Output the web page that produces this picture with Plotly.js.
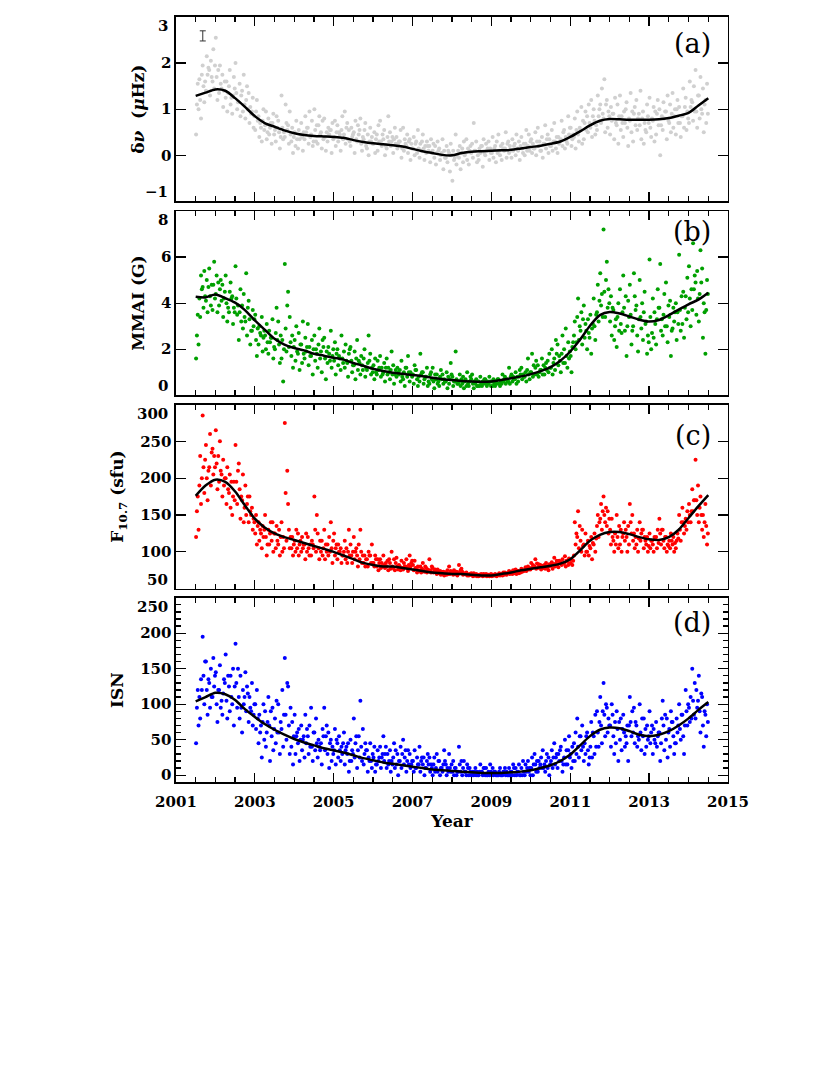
<!DOCTYPE html>
<html>
<head>
<meta charset="utf-8">
<script src="https://cdn.plot.ly/plotly-3.0.1.min.js"></script>
<style>body{margin:0;background:#fff}#fig{width:830px;height:1075px}</style>
</head>
<body>
<div id="fig"></div>
<script>
var dnuPts = [
 0.45,1.1,1.55, 1.65,1.2,0.8, 1.95,1.5,1.15, 1.4,2.15,1.75, 1.85,1.3,2.05, 1.6,2.3,1.45,
 2.55,1.7,1.2, 1.35,1.95,1.55, 1.75,1.05,1.4, 1.25,1.6,0.95, 1.5,1.85,1.1, 0.9,1.3,1.7, 2.0,1.35,1.0, 1.15,1.55,0.85, 1.4,0.95,1.75, 0.8,1.2,1.5, 1.35,0.7,1.05, 0.95,1.25,0.6,
 0.55,0.95,1.2, 0.85,0.4,0.7, 0.3,0.75,1.0, 0.65,0.95,0.35, 0.8,0.45,0.6, 0.25,0.7,0.9, 0.55,0.3,0.85, 0.75,0.5,0.15, 1.3,0.6,0.35, 0.4,1.1,0.7, 0.65,0.25,0.95, 0.3,0.6,0.05,
 0.5,0.2,0.75, 0.15,0.55,0.35, 0.7,0.4,0.1, 0.35,0.85,0.5, 0.6,0.25,0.95, 0.45,0.75,0.2, 1.0,0.55,0.3, 0.25,0.65,0.85, 0.5,0.15,0.75, 0.8,0.4,0.1, 0.3,0.6,0.45, 0.55,0.05,0.7,
 0.4,0.75,0.2, 0.65,0.3,0.5, 0.1,0.55,0.85, 0.45,0.95,0.25, 0.7,0.35,0.55, 0.2,0.6,0.4, 0.5,0.05,0.75, 0.3,0.65,0.45, 0.8,0.25,0.1, 0.35,0.55,0.7, 0.15,0.45,0.0, 0.6,0.3,0.4,
 0.25,0.5,0.05, 0.45,0.1,0.65, 0.75,0.3,0.2, 0.35,0.55,0.0, 0.15,0.4,0.85, 0.5,0.2,0.3, 0.05,0.35,0.6, 0.4,0.15,0.25, 0.3,0.55,-0.05, 0.6,0.1,0.35, 0.2,0.45,0.05, 0.35,-0.1,0.25,
 0.15,0.4,0.0, 0.3,0.05,0.55, -0.05,0.25,0.1, 0.45,0.15,-0.1, 0.05,0.3,0.2, 0.2,-0.15,0.35, 0.1,0.25,-0.05, -0.2,0.05,0.3, 0.15,-0.1,0.0, 0.35,-0.3,0.1, -0.05,0.2,-0.15, 0.05,-0.35,0.25,
 -0.55,0.1,-0.1, 0.45,-0.2,0.0, -0.05,0.2,-0.3, 0.15,-0.15,0.3, 0.05,0.35,-0.1, -0.2,0.1,0.2, 0.25,-0.05,0.7, 0.1,0.3,-0.15, -0.1,0.15,0.05, 0.2,-0.25,0.35, 0.0,0.25,0.1, 0.3,-0.1,0.15,
 0.05,0.4,-0.05, 0.2,-0.15,0.3, 0.45,0.1,0.0, -0.1,0.25,0.15, 0.15,0.5,-0.05, 0.3,0.05,0.2, -0.05,0.35,0.1, 0.25,0.0,0.45, 0.1,0.3,-0.1, 0.4,0.15,0.05, 0.0,0.25,0.55, 0.2,0.45,0.1,
 0.35,0.05,0.25, 0.15,0.5,0.0, 0.6,0.2,0.3, 0.1,0.4,-0.05, 0.25,0.65,0.15, 0.45,0.05,0.35, 0.2,0.55,0.1, 0.7,0.3,0.15, 0.05,0.4,0.25, 0.35,0.75,0.2, 0.55,0.15,0.4, 0.25,0.85,0.45,
 0.6,0.2,0.35, 0.4,0.8,0.15, 0.95,0.45,0.3, 0.55,1.05,0.25, 0.35,0.7,0.95, 0.85,0.5,1.1, 0.6,1.2,0.4, 1.0,0.75,0.45, 0.55,1.3,0.85, 1.1,0.7,1.45, 0.8,1.65,0.5, 1.2,0.6,0.95,
 0.45,1.05,0.75, 0.9,0.35,1.25, 0.65,1.1,0.25, 1.3,0.55,0.85, 0.4,0.95,0.7, 1.15,0.6,0.2, 0.75,1.35,0.5, 0.3,0.9,1.05, 1.2,0.55,0.8, 0.65,1.4,0.35, 0.95,0.25,0.7, 0.5,1.1,0.85,
 1.25,0.6,0.4, 0.75,1.05,0.3, 0.45,0.9,1.2, 1.0,0.0,0.65, 0.55,1.15,0.8, 0.95,0.35,1.3, 0.7,1.1,0.5, 1.35,0.6,0.85, 0.45,1.0,1.2, 1.05,0.7,0.4, 0.85,1.45,0.6, 1.25,0.55,0.95,
 0.7,1.6,1.05, 1.15,0.75,1.5, 1.85,0.95,0.6, 1.3,0.8,1.7, 0.9,1.45,0.5, 1.2,0.7,1.55
];
var mmaiPts = [
 1.6,2.6,3.5, 4.2,3.4,5.2, 4.7,3.8,5.4, 4.1,5.0,3.6, 5.5,4.3,3.9, 3.7,4.8,5.8,
 4.4,5.2,3.6, 3.9,4.6,5.0, 4.8,3.4,4.2, 5.2,4.0,3.2, 3.6,4.5,4.9, 4.3,3.1,3.8, 5.6,4.2,3.5, 2.4,3.6,4.6, 3.9,2.9,4.4, 3.2,5.3,2.6, 4.1,3.3,2.2, 2.8,3.7,3.0,
 3.5,2.4,1.7, 2.2,3.0,2.7, 3.4,1.9,2.5, 2.6,2.0,3.1, 1.8,2.8,2.3, 2.5,3.3,1.6, 2.0,2.7,3.8, 3.2,2.2,1.4, 1.6,2.4,0.6, 5.7,2.9,1.9, 4.5,2.1,3.4, 1.7,2.6,1.2,
 2.4,1.5,3.0, 1.8,2.7,1.1, 2.2,1.4,3.2, 1.6,2.5,1.9, 3.1,1.3,2.1, 1.7,2.4,0.9, 2.6,1.5,2.0, 1.2,2.2,2.9, 1.9,1.0,2.4, 2.5,1.6,0.7, 1.4,2.1,1.8, 2.8,1.2,1.7,
 1.5,2.3,0.9, 2.0,1.3,1.7, 1.1,2.6,1.6, 1.9,1.2,2.2, 1.4,0.8,1.8, 2.1,1.5,1.0, 1.3,1.9,0.7, 2.4,1.1,1.5, 0.9,1.7,1.3, 1.6,2.0,0.8, 1.1,1.4,2.6, 1.8,0.9,1.2,
 1.3,0.7,1.6, 0.9,1.5,1.1, 1.7,0.8,1.2, 1.0,1.4,0.6, 1.6,0.9,1.2, 0.7,1.1,1.9, 1.3,0.5,0.9, 0.8,1.2,1.0, 1.1,0.6,1.5, 0.7,1.0,0.4, 1.2,0.8,1.7, 0.6,1.0,0.9,
 0.9,0.5,1.3, 1.1,0.7,0.4, 0.6,1.8,0.9, 1.0,0.5,0.7, 0.8,1.2,0.4, 0.5,0.9,1.0, 1.2,0.6,0.3, 0.7,0.9,0.5, 0.4,0.8,1.1, 0.9,0.5,0.7, 0.6,1.0,0.3, 0.5,0.7,1.4,
 0.8,0.4,0.6, 1.9,0.7,0.5, 0.6,0.9,0.4, 0.5,0.8,0.3, 0.7,0.4,1.0, 0.4,0.6,0.8, 0.9,0.5,0.3, 0.5,0.7,0.4, 0.6,0.4,0.8, 0.4,0.6,0.5, 0.7,0.5,0.4, 0.5,0.8,0.6,
 0.6,0.4,0.7, 0.4,0.6,0.5, 0.7,0.5,0.4, 0.5,0.9,0.6, 0.8,0.5,0.7, 0.6,1.2,0.5, 0.9,0.6,0.8, 0.7,1.0,0.5, 0.6,0.8,1.1, 1.2,0.7,0.9, 0.8,1.0,0.6, 1.6,0.9,0.7,
 1.0,1.8,0.8, 0.9,1.2,1.5, 1.3,0.8,1.0, 1.1,1.6,0.9, 0.9,1.2,1.4, 1.5,1.0,1.8, 1.2,2.0,0.9, 1.6,1.1,2.4, 2.2,1.3,1.7, 1.0,1.8,2.6, 2.0,1.4,2.9, 1.2,2.3,1.6,
 1.7,1.0,2.1, 2.6,3.2,2.0, 3.4,4.2,2.4, 2.8,3.6,2.2, 3.9,2.5,3.1, 2.0,3.3,2.7, 3.5,1.8,2.9, 4.2,3.0,2.4, 3.6,4.8,3.2, 5.3,3.9,4.4, 7.2,4.5,3.4, 5.8,3.8,4.6,
 3.2,4.3,2.6, 3.7,2.4,3.0, 2.1,3.4,4.0, 4.6,3.1,2.7, 5.2,3.8,2.8, 1.7,3.0,4.1, 4.8,3.5,2.2, 3.0,5.3,4.3, 3.9,2.6,1.9, 5.0,3.4,2.9, 2.4,3.6,4.5, 3.2,1.8,2.6,
 5.9,3.4,2.0, 4.2,2.5,3.6, 2.2,3.3,4.6, 3.8,5.7,2.8, 2.6,3.5,4.4, 4.9,3.0,2.3, 3.4,4.1,1.7, 2.9,3.8,3.2, 4.0,2.4,3.6, 6.1,3.7,2.8, 3.1,4.5,2.5, 4.3,3.3,5.1,
 5.6,4.2,3.0, 3.7,6.6,4.6, 4.9,3.5,5.4, 3.2,4.4,6.3, 5.5,2.5,4.0, 1.8,3.7,5.0
];
var f107Pts = [
 120,155,175, 190,230,165, 285,215,180, 245,200,170, 215,260,190, 240,205,230,
 265,220,185, 195,250,210, 175,225,190, 200,165,215, 180,205,160, 150,175,195, 245,195,165, 220,185,145, 170,205,140, 190,150,165, 140,175,155, 160,130,145,
 125,150,110, 140,115,130, 105,135,120, 150,120,95, 130,110,125, 115,140,100, 125,105,135, 110,130,95, 140,100,120, 275,180,115, 165,130,105, 105,120,95,
 115,100,130, 125,95,110, 100,120,105, 110,90,125, 120,105,95, 95,115,110, 175,130,100, 125,105,90, 100,115,95, 130,90,110, 110,95,120, 140,105,85,
 125,95,105, 90,110,100, 105,85,95, 100,115,90, 85,100,130, 110,95,85, 120,90,100, 95,80,110, 130,100,85, 85,95,80, 90,80,100, 95,85,110,
 85,80,95, 80,90,75, 90,78,85, 95,82,78, 80,88,75, 85,77,100, 78,90,75, 92,80,76, 80,75,88, 76,85,80, 90,78,74, 95,80,85,
 82,75,88, 78,72,80, 74,80,72, 85,75,73, 78,72,76, 90,75,72, 78,72,74, 73,70,76, 71,74,69, 70,73,68, 72,69,75, 80,70,74,
 72,69,75, 70,73,68, 82,71,75, 73,69,71, 70,72,68, 68,70,69, 69,67,71, 68,70,67, 67,69,68, 69,67,70, 68,70,67, 69,67,68,
 67,69,68, 70,68,67, 69,71,68, 70,68,72, 72,70,69, 71,74,70, 73,70,75, 72,76,70, 74,71,73, 77,73,75, 75,79,74, 80,76,78,
 85,78,82, 80,90,77, 78,83,80, 76,81,79, 82,77,85, 79,75,83, 81,86,77, 92,80,84, 83,79,88, 86,82,90, 84,94,80, 87,82,91,
 85,90,82, 95,140,110, 120,155,105, 115,100,130, 110,95,125, 100,115,95, 105,120,90, 110,125,100, 135,150,120, 145,165,130, 175,150,140, 135,155,125,
 130,110,145, 115,100,125, 150,120,105, 110,130,100, 125,140,115, 120,100,135, 165,140,125, 115,125,105, 110,130,100, 140,115,125, 130,105,120, 110,120,100,
 125,105,115, 110,100,120, 120,105,130, 145,125,110, 130,115,105, 120,100,110, 115,105,125, 110,120,100, 105,115,125, 150,130,115, 160,140,125, 145,130,155,
 165,150,140, 185,155,170, 225,170,150, 140,160,175, 130,150,120, 165,135,110
];
var isnPts = [
 45,95,120, 110,80,135, 195,140,100, 160,120,85, 130,95,150, 110,165,125,
 145,100,75, 120,155,95, 85,115,135, 170,105,80, 125,90,140, 100,150,70, 185,130,95, 110,80,140, 60,120,100, 145,90,125, 75,110,95, 130,70,85,
 100,65,120, 45,85,60, 25,75,100, 90,40,60, 110,70,20, 55,95,35, 80,45,105, 100,60,30, 65,120,40, 165,85,50, 125,70,30, 40,75,15,
 85,30,55, 45,65,20, 70,35,50, 25,85,45, 55,30,70, 95,40,20, 60,35,80, 25,50,40, 45,15,65, 95,35,55, 30,60,10, 50,20,40,
 35,65,15, 45,25,55, 20,40,30, 60,15,35, 30,45,5, 50,20,35, 80,25,45, 10,35,55, 105,40,20, 15,30,45, 35,5,25, 45,20,10,
 25,40,5, 15,35,20, 40,10,25, 55,20,30, 10,30,15, 35,5,20, 25,45,10, 15,30,0, 20,40,10, 50,15,25, 5,20,35, 30,10,15,
 20,5,35, 10,25,15, 40,5,20, 15,25,0, 10,20,30, 25,5,15, 0,15,25, 10,30,5, 20,0,10, 5,15,35, 15,0,10, 30,10,5,
 5,20,0, 10,0,5, 40,15,5, 0,10,20, 5,0,15, 0,10,5, 0,5,0, 10,0,5, 0,5,15, 5,0,10, 0,10,0, 5,0,15,
 0,10,0, 5,0,0, 0,5,10, 0,0,5, 10,0,5, 0,10,0, 5,0,15, 0,10,0, 5,15,0, 10,0,20, 0,15,5, 20,5,10,
 10,25,0, 30,15,5, 5,20,10, 25,10,35, 15,5,20, 10,25,0, 20,35,10, 45,15,25, 10,30,20, 40,20,5, 25,50,15, 15,35,55,
 30,10,40, 45,20,60, 80,40,25, 55,35,70, 20,45,30, 60,35,15, 40,75,25, 55,30,85, 90,60,40, 110,70,45, 130,85,55, 95,60,80,
 70,40,100, 55,30,75, 90,65,20, 50,80,35, 85,60,40, 45,70,20, 110,75,55, 60,95,45, 70,40,55, 100,60,35, 55,80,30, 40,70,50,
 90,45,60, 30,65,50, 75,40,55, 60,20,45, 105,70,35, 50,80,25, 65,40,90, 75,55,30, 45,80,60, 100,65,50, 85,55,30, 120,90,70,
 95,75,110, 150,105,85, 80,120,95, 140,90,60, 110,70,40, 85,55,100
];
// one more sample per month, filling the dense band around each curve
var dnuExtra = [
 1.0,1.75,1.6,1.9,1.7,1.95,
 1.85,1.45,1.6,1.35,1.25,1.45,1.15,1.3,1.1,1.0,0.9,0.85,
 0.75,0.6,0.55,0.5,0.7,0.45,0.6,0.4,0.5,0.55,0.45,0.4,
 0.35,0.45,0.5,0.6,0.4,0.3,0.65,0.45,0.35,0.5,0.55,0.35,
 0.5,0.45,0.35,0.6,0.3,0.45,0.35,0.55,0.4,0.2,0.3,0.25,
 0.35,0.3,0.45,0.2,0.3,0.4,0.25,0.3,0.15,0.25,0.3,0.15,
 0.25,0.15,0.3,0.2,0.1,0.05,0.2,0.1,0.05,-0.05,0.1,0.0,
 -0.05,0.1,0.05,0.0,0.15,0.05,0.1,0.0,0.2,0.05,0.15,0.05,
 0.15,0.05,0.2,0.1,0.25,0.1,0.2,0.15,0.2,0.25,0.1,0.3,
 0.15,0.3,0.1,0.25,0.35,0.2,0.3,0.4,0.3,0.5,0.3,0.6,
 0.45,0.55,0.6,0.75,0.55,0.7,0.85,0.65,1.0,0.9,1.1,0.85,
 0.9,0.7,0.85,0.7,1.0,0.8,0.95,0.65,0.9,0.8,0.55,0.7,
 0.8,0.95,0.65,0.85,0.95,0.75,0.9,1.0,0.7,0.85,1.05,0.8,
 1.2,0.95,1.3,1.0,1.1,0.9
];
var mmaiExtra = [
 2.2,4.6,4.3,4.7,4.8,4.2,
 4.9,4.1,4.5,3.8,4.2,3.6,3.9,3.2,3.4,3.8,2.8,3.3,
 2.9,2.6,2.8,2.3,2.5,2.1,2.4,2.6,2.0,3.9,2.3,2.1,
 1.9,2.2,1.8,2.1,1.7,2.0,1.8,1.6,2.1,1.9,1.5,2.0,
 1.8,1.6,1.4,1.5,2.0,1.3,1.6,1.4,1.1,1.2,1.5,1.0,
 1.0,1.2,0.9,1.2,1.0,0.9,1.1,0.9,0.8,1.2,1.0,0.8,
 1.1,0.8,1.0,0.8,0.6,0.7,0.9,0.6,0.7,0.6,0.8,0.9,
 0.6,0.5,0.7,0.6,0.5,0.7,0.6,0.4,0.5,0.7,0.6,0.4,
 0.5,0.7,0.6,0.7,0.6,0.8,0.7,0.8,0.9,0.8,1.1,1.0,
 1.3,0.9,1.1,1.3,1.1,1.2,1.4,1.8,1.5,1.4,1.7,1.9,
 2.3,2.3,3.0,3.3,2.8,2.5,3.1,3.5,4.1,3.4,5.0,4.0,
 3.8,3.3,2.8,3.6,4.3,3.4,2.8,3.7,3.3,4.0,3.1,2.3,
 2.7,3.1,3.8,3.3,3.0,3.9,2.8,3.6,3.1,4.3,3.8,3.6,
 4.6,5.2,4.2,4.9,3.6,4.4
];
var f107Extra = [
 130,200,225,210,235,215,
 230,205,200,185,195,170,210,175,160,175,150,140,
 135,125,130,110,140,125,115,120,105,210,120,110,
 105,115,110,100,110,105,150,115,105,100,100,115,
 110,100,95,105,95,100,105,90,95,90,95,85,
 90,85,80,85,90,80,85,82,78,80,82,88,
 78,75,77,80,74,80,76,72,73,72,70,72,
 70,72,77,70,69,71,68,69,70,68,69,70,
 68,69,70,69,71,72,71,74,72,74,77,76,
 80,84,82,78,80,81,83,88,85,84,88,84,
 88,125,135,108,100,108,112,118,140,155,160,145,
 120,110,135,120,130,110,150,120,118,130,115,108,
 115,118,112,130,120,108,115,112,118,140,135,140,
 155,170,190,150,140,125
];
var isnExtra = [
 70,120,160,135,110,140,
 120,105,130,140,110,125,150,95,110,115,90,100,
 80,70,50,75,90,65,60,75,85,130,95,55,
 60,50,55,65,40,60,45,35,55,70,45,30,
 50,35,45,40,20,30,55,25,65,35,20,30,
 15,25,30,40,20,15,35,20,30,35,15,20,
 10,15,25,10,15,10,5,20,10,20,5,15,
 10,5,20,5,10,0,5,0,5,10,0,5,
 5,0,0,5,0,5,10,5,0,5,10,0,
 15,20,15,10,30,15,25,30,35,15,35,25,
 20,30,55,40,55,25,60,40,75,90,100,70,
 85,45,75,65,55,70,90,75,50,80,65,55,
 70,45,60,80,85,60,75,45,70,85,70,100,
 80,130,105,115,90,75
];
// smoothed curves, one value per quarter from 2001.5 to 2014.5
var dnuFit = [1.29,1.36,1.43,1.40,1.24,1.05,0.85,0.70,0.62,0.54,0.48,0.44,0.42,0.41,0.40,0.38,0.33,0.29,0.26,0.24,0.22,0.19,0.14,0.09,0.05,0.01,0.0,0.05,0.08,0.09,0.10,0.11,0.12,0.15,0.18,0.21,0.25,0.30,0.40,0.52,0.65,0.75,0.79,0.78,0.77,0.77,0.77,0.78,0.81,0.86,0.92,1.08,1.24];
var mmaiFit = [4.28,4.25,4.38,4.22,4.02,3.70,3.25,2.85,2.45,2.20,2.05,1.95,1.80,1.72,1.63,1.55,1.40,1.28,1.15,1.05,0.98,0.93,0.88,0.83,0.76,0.70,0.66,0.62,0.60,0.59,0.60,0.66,0.74,0.82,0.92,1.05,1.22,1.50,1.90,2.42,3.02,3.48,3.62,3.55,3.42,3.28,3.20,3.27,3.48,3.72,3.95,4.15,4.45];
var f107Fit = [176,190,198,195,182,163,145,133,125,120,116,112,108,104,100,95,90,85,82,80,80,78,76,74,72,71,70,70,69,68,68,70,72,75,77,79,81,84,90,102,115,123,127,127,124,120,117,116,120,130,146,162,177];
var isnFit = [104,110,116,114,106,93,82,72,64,57,51,46,42,38,35,32,28,24,21,18,16,14,12,10,8,7,6,5,4,3,3,3,4,5,7,10,14,20,29,42,55,64,67,66,62,57,55,57,62,70,80,92,103];

// y tick values per panel
var dnuTicks = [-1, 0, 1, 2, 3];
var mmaiTicks = [0, 2, 4, 6, 8];
var f107Ticks = [50, 100, 150, 200, 250, 300];
var isnTicks = [0, 50, 100, 150, 200, 250];

var ptX = [], exX = [];
for (var m = 0; m < 156; m++) {
  for (var k = 0; k < 3; k++) ptX.push(2001.5 + (m + k / 4 + 0.125) / 12);
  exX.push(2001.5 + (m + 0.875) / 12);
}
var fitX = dnuFit.map(function (v, i) { return 2001.5 + i * 0.25; });

var serif = 'DejaVu Serif';
var tickFont = {family: serif, size: 15, color: '#000', weight: 'bold'};
var panels = [
  {pts: dnuPts, extra: dnuExtra, fit: dnuFit, ticks: dnuTicks, color: '#d0d0d0', size: 4, dom: [0.8126, 0.9842], range: [-1, 3],
   title: 'δ<i>ν</i>  (<i>μ</i>Hz)', tag: '(a)', tagY: 0.960, lowEdge: true},
  {pts: mmaiPts, extra: mmaiExtra, fit: mmaiFit, ticks: mmaiTicks, color: '#00a000', size: 4, dom: [0.6323, 0.8037], range: [0, 8],
   title: 'MMAI (G)', tag: '(b)', tagY: 0.7842, lowEdge: true},
  {pts: f107Pts, extra: f107Extra, fit: f107Fit, ticks: f107Ticks, color: '#ff0000', size: 4, dom: [0.4524, 0.6237], range: [50, 300],
   title: 'F<sub>10.7</sub> (sfu)', tag: '(c)', tagY: 0.5953, lowEdge: true},
  {pts: isnPts, extra: isnExtra, fit: isnFit, ticks: isnTicks, color: '#0000ff', size: 4, dom: [0.2723, 0.4440], range: [-10, 250],
   title: 'ISN', tag: '(d)', tagY: 0.4205, lowEdge: false}
];

function lab(v) { return v < 0 ? '\u2212' + (-v) : String(v); }

var data = [];
var layout = {
  width: 830, height: 1075, margin: {l: 0, r: 0, t: 0, b: 0},
  paper_bgcolor: '#fff', plot_bgcolor: '#fff', showlegend: false,
  font: {family: serif, color: '#000'},
  annotations: []
};

panels.forEach(function (p, i) {
  var n = i === 0 ? '' : String(i + 1);
  data.push({x: ptX.concat(exX), y: p.pts.concat(p.extra), xaxis: 'x' + n, yaxis: 'y' + n, type: 'scatter', mode: 'markers',
    marker: {color: p.color, size: p.size, line: {width: 0}}, hoverinfo: 'skip'});
  data.push({x: fitX, y: p.fit, xaxis: 'x' + n, yaxis: 'y' + n, type: 'scatter', mode: 'lines',
    line: {color: '#000', width: 2.5, shape: 'spline', smoothing: 0.8}, hoverinfo: 'skip'});
  var last = i === 3;
  var xa = {
    domain: [0.2120, 0.8771], range: [2001, 2015], anchor: 'y' + n, tick0: 2001, dtick: 2,
    ticks: 'inside', ticklen: 9, tickwidth: 1.3, tickcolor: '#000', mirror: 'allticks',
    showline: true, linecolor: '#000', linewidth: 1.5, showgrid: false, zeroline: false,
    showticklabels: last, tickfont: tickFont, ticklabelstandoff: 5,
    minor: {dtick: 0.5, ticks: 'inside', ticklen: 5, tickwidth: 1.3, tickcolor: '#000', showgrid: false}
  };
  if (last) xa.title = {text: 'Year', font: {family: serif, size: 17, weight: 'bold'}, standoff: 4};
  layout['xaxis' + n] = xa;

  // the end labels sit just inside the frame, so they are placed as annotations on the same axis
  var top = p.ticks[p.ticks.length - 1], bot = p.ticks[0];
  var inner = p.ticks.filter(function (v) { return v !== top && !(p.lowEdge && v === bot); });
  var ya = {
    domain: p.dom, range: p.range, anchor: 'x' + n, tickmode: 'array', tickvals: inner,
    ticktext: inner.map(lab),
    ticks: 'inside', ticklen: 10, tickwidth: 1.3, tickcolor: '#000', mirror: 'allticks',
    showline: true, linecolor: '#000', linewidth: 1.5, showgrid: false, zeroline: false,
    tickfont: tickFont,
    title: {text: p.title, font: {family: serif, size: 17, weight: 'bold'}, standoff: 12}
  };
  if (last) ya.minor = {dtick: 10, tick0: 0, ticks: 'inside', ticklen: 5, tickwidth: 1.3, tickcolor: '#000', showgrid: false};
  layout['yaxis' + n] = ya;

  layout.annotations.push({xref: 'paper', yref: 'y' + n, x: 0.2036, y: top, xanchor: 'right', yanchor: 'top',
    yshift: 1, text: lab(top), showarrow: false, font: tickFont, borderpad: 0});
  if (p.lowEdge) layout.annotations.push({xref: 'paper', yref: 'y' + n, x: 0.2036, y: bot, xanchor: 'right',
    yanchor: 'bottom', yshift: -1, text: lab(bot), showarrow: false, font: tickFont, borderpad: 0});

  layout.annotations.push({xref: 'paper', yref: 'paper', x: 0.8590, y: p.tagY, xanchor: 'right', yanchor: 'middle',
    text: p.tag, showarrow: false, font: {family: serif, size: 27, color: '#000'}});
});

// typical error bar in panel (a)
data.push({x: [2001.68], y: [2.59], type: 'scatter', mode: 'markers', marker: {size: 0.1, color: '#333'},
  error_y: {type: 'data', array: [0.11], color: '#333', thickness: 1, width: 3}, hoverinfo: 'skip'});

Plotly.newPlot('fig', data, layout, {displayModeBar: false, staticPlot: true});
</script>
</body>
</html>
